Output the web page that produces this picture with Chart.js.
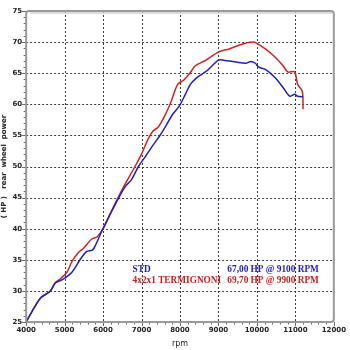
<!DOCTYPE html>
<html><head><meta charset="utf-8">
<script src="https://cdn.jsdelivr.net/npm/chart.js@4"></script>
<style>html,body{margin:0;padding:0;background:#fff}#w{width:350px;height:350px}</style>
</head><body><div id="w"><canvas id="c"></canvas></div>
<script>
const stdRpm = [4000,4200,4380,4630,4760,4940,5190,5400,5570,5730,5830,5950,6000,6200,6410,6580,6740,6920,7100,7250,7470,7630,7810,7980,8140,8270,8440,8700,9000,9130,9460,9710,9840,9960,10040,10220,10470,10680,10850,10980,11060,11200];
const stdHp  = [25,27.2,28.9,30,31.3,31.8,33,35,36.3,36.6,37.7,39.4,40,42.5,45,46.8,47.9,50,51.6,53,54.9,56.5,58.4,59.7,61.6,63.2,64.3,65.4,67.1,67.1,66.8,66.6,66.9,66.6,66,65.6,64.3,62.7,61.3,61.6,61.3,61.2];
const termRpm = [4000,4200,4380,4500,4630,4760,4900,5060,5190,5350,5500,5700,5850,6000,6200,6390,6540,6830,7000,7170,7300,7430,7600,7760,7940,8100,8270,8400,8650,9000,9280,9630,9900,10000,10220,10470,10680,10800,10980,11060,11180,11200];
const termHp  = [25,27.2,28.9,29.4,30,31.3,32,33,34.7,36.1,36.9,38.3,38.7,40,42.6,45,46.8,50,52,54.4,55.7,56.3,58.1,60.3,63.2,63.9,65.1,66.2,67,68.4,68.9,69.7,70,69.8,68.9,67.6,66.2,65.2,65.2,63.2,62.1,59.2];
const xTicks = [4000,5000,6000,7000,8000,9000,10000,11000,12000];
const yTicks = [25,30,35,40,45,50,55,60,65,70,75];
const legendRows = [
  {name:'STD', peak:'67,00 HP @ 9100 RPM', color:'#1c1cc4'},
  {name:'4x2x1 TERMIGNONI', peak:'69,70 HP @ 9900 RPM', color:'#cc1f1f'}
];
const toPts = (xs, ys) => xs.map((x,i)=>({x:x, y:ys[i]}));

const deco = {
  id:'deco',
  beforeDraw(chart){
    const c=chart.ctx; c.save(); c.fillStyle='#fff'; c.fillRect(0,0,chart.width,chart.height); c.restore();
  },
  beforeDatasetsDraw(chart){
    const c=chart.ctx, a=chart.chartArea, xs=chart.scales.x, ys=chart.scales.y;
    c.save();
    c.strokeStyle='#3a3a3a'; c.lineWidth=1; c.setLineDash([2,2]);
    c.beginPath();
    xTicks.slice(1,-1).forEach(v=>{
      const px=Math.round(xs.getPixelForValue(v))+0.5;
      c.moveTo(px,a.top); c.lineTo(px,a.bottom);
    });
    yTicks.slice(1,-1).forEach(v=>{
      const py=Math.round(ys.getPixelForValue(v))+0.5;
      c.moveTo(a.left,py); c.lineTo(a.right,py);
    });
    c.stroke();
    c.restore();
  },
  afterDatasetsDraw(chart){
    const c=chart.ctx, a=chart.chartArea, xs=chart.scales.x, ys=chart.scales.y;
    c.save();
    // minor ticks
    c.strokeStyle='#666'; c.lineWidth=1;
    c.beginPath();
    for(let v=4000; v<=12000; v+=200){
      const px=Math.round(xs.getPixelForValue(v))+0.5;
      const len = v%1000===0?4:2.5;
      c.moveTo(px,a.bottom); c.lineTo(px,a.bottom+len);
    }
    for(let v=25; v<=75; v+=1){
      const py=Math.round(ys.getPixelForValue(v))+0.5;
      const len = v%5===0?4:2.5;
      c.moveTo(a.left,py); c.lineTo(a.left-len,py);
    }
    c.stroke();
    // frame
    c.strokeStyle='#9a9a9a'; c.lineWidth=2;
    c.beginPath();
    c.moveTo(a.left,a.bottom); c.lineTo(a.left,a.top+3);
    c.quadraticCurveTo(a.left,a.top,a.left+3,a.top);
    c.lineTo(a.right-3,a.top); c.quadraticCurveTo(a.right,a.top,a.right,a.top+3);
    c.lineTo(a.right,a.bottom-3); c.quadraticCurveTo(a.right,a.bottom,a.right-3,a.bottom);
    c.lineTo(a.left,a.bottom);
    c.stroke();
    c.strokeStyle='#cfcfcf'; c.lineWidth=1.5;
    c.beginPath(); c.moveTo(a.left+4,a.top+2); c.lineTo(a.right-2,a.top+2); c.stroke();
    // legend text
    c.font='bold 9.3px "Liberation Serif", "DejaVu Serif", serif';
    c.textBaseline='middle'; c.textAlign='left';
    legendRows.forEach((r,i)=>{
      const y = a.top + (a.bottom-a.top)*0.83 + i*11;
      c.fillStyle=r.color;
      c.fillText(r.name, a.left + (a.right-a.left)*0.346, y);
      c.fillText(r.peak, a.left + (a.right-a.left)*0.654, y);
    });
    c.restore();
  }
};

new Chart(document.getElementById('c'), {
  type:'scatter',
  data:{datasets:[
    {label:'STD', data:toPts(stdRpm,stdHp), showLine:true, borderColor:'#2020c0', borderWidth:1.5, pointRadius:0, tension:0.3},
    {label:'4x2x1 TERMIGNONI', data:toPts(termRpm,termHp), showLine:true, borderColor:'#d02424', borderWidth:1.5, pointRadius:0, tension:0.3}
  ]},
  options:{
    responsive:true, maintainAspectRatio:false, animation:false,
    layout:{padding:{top:11,right:7,bottom:0,left:0}},
    plugins:{legend:{display:false}, tooltip:{enabled:false}},
    scales:{
      x:{type:'linear', min:4000, max:12000,
        afterBuildTicks(s){ s.ticks = xTicks.map(v=>({value:v})); },
        ticks:{font:{size:7, weight:'bold', family:'"DejaVu Sans", sans-serif'}, color:'#222', padding:4, maxRotation:0, callback:v=>String(v)},
        grid:{display:false, drawTicks:false},
        border:{display:false},
        title:{display:true, text:'rpm', font:{size:8, family:'"DejaVu Sans", sans-serif'}, color:'#222', padding:{top:1,bottom:1}}
      },
      y:{type:'linear', min:25, max:75,
        afterBuildTicks(s){ s.ticks = yTicks.map(v=>({value:v})); },
        ticks:{font:{size:7, weight:'bold', family:'"DejaVu Sans", sans-serif'}, color:'#222', padding:4, callback:v=>String(v)},
        grid:{display:false, drawTicks:false},
        border:{display:false},
        title:{display:true, text:'( HP )   rear  wheel  power', font:{size:7, weight:'bold', family:'"DejaVu Sans", sans-serif'}, color:'#222', padding:{top:0,bottom:0}}
      }
    }
  },
  plugins:[deco]
});
</script>
</body></html>
